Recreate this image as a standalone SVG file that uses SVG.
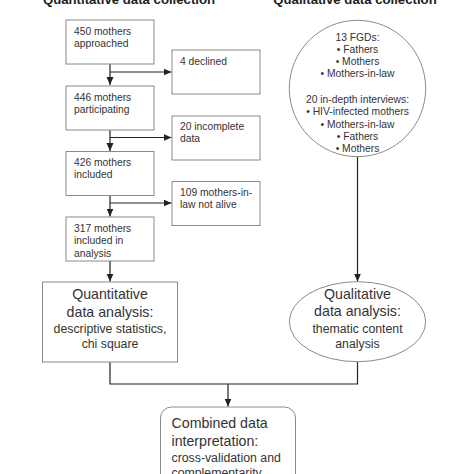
<svg xmlns="http://www.w3.org/2000/svg" width="474" height="474" viewBox="0 0 474 474">
<defs>
<marker id="ah" viewBox="0 0 8 8" refX="8" refY="4" markerWidth="8" markerHeight="8" markerUnits="userSpaceOnUse" orient="auto">
<path d="M0,0.5 L8,4 L0,7.5 Z" fill="#222"/>
</marker>
<style>
text{font-family:"Liberation Sans",Arial,sans-serif;fill:#333}
.h{font-weight:bold;font-size:13.2px;fill:#222;text-anchor:middle}
.s{font-size:10.3px}
.c{text-anchor:middle}
.big{font-size:14.2px}
.med{font-size:12.3px}
.box{fill:#fff;stroke:#8a8a8a;stroke-width:1}
.ln{fill:none;stroke:#222;stroke-width:1.2}
</style>
</defs>
<rect width="474" height="474" fill="#fff"/>
<g id="headers">
<text class="h" x="129" y="3.5">Quantitative data collection</text>
<text class="h" x="355" y="3.5">Qualitative data collection</text>
</g>
<g id="connectors">
<path class="ln" d="M110,64 V85" marker-end="url(#ah)"/>
<path class="ln" d="M110,72 H171.5" marker-end="url(#ah)"/>
<path class="ln" d="M110,130 V151" marker-end="url(#ah)"/>
<path class="ln" d="M110,137.5 H171.5" marker-end="url(#ah)"/>
<path class="ln" d="M110,195.5 V216.5" marker-end="url(#ah)"/>
<path class="ln" d="M110,203 H171.5" marker-end="url(#ah)"/>
<path class="ln" d="M110,261 V281.5" marker-end="url(#ah)"/>
<path class="ln" d="M357.5,156.5 V281.5" marker-end="url(#ah)"/>
<path class="ln" d="M110,362 V384 H357.5 V362"/>
<path class="ln" d="M228,384 V406.5" marker-end="url(#ah)"/>
</g>
<g id="n450">
<rect class="box" x="66" y="20" width="88" height="44"/>
<text class="s" x="74" y="35">450 mothers<tspan x="74" dy="12.3">approached</tspan></text>
</g>
<g id="declined">
<rect class="box" x="172" y="50" width="88" height="44"/>
<text class="s" x="180" y="64.5">4 declined</text>
</g>
<g id="n446">
<rect class="box" x="66" y="86" width="88" height="44"/>
<text class="s" x="74" y="100.5">446 mothers<tspan x="74" dy="12.3">participating</tspan></text>
</g>
<g id="incomplete">
<rect class="box" x="172" y="116" width="88" height="44"/>
<text class="s" x="180" y="130">20 incomplete<tspan x="180" dy="12.3">data</tspan></text>
</g>
<g id="n426">
<rect class="box" x="66" y="151.5" width="88" height="44"/>
<text class="s" x="74" y="166">426 mothers<tspan x="74" dy="12.3">included</tspan></text>
</g>
<g id="notalive">
<rect class="box" x="172" y="181.5" width="88" height="44"/>
<text class="s" x="180" y="195.5">109 mothers-in-<tspan x="180" dy="12.3">law not alive</tspan></text>
</g>
<g id="n317">
<rect class="box" x="66" y="217" width="88" height="44"/>
<text class="s" x="74" y="231.5">317 mothers<tspan x="74" dy="12.5">included in</tspan><tspan x="74" dy="12.5">analysis</tspan></text>
</g>
<g id="quantanalysis">
<rect class="box" x="42.5" y="282" width="135" height="80"/>
<text class="c big" x="110" y="299">Quantitative</text>
<text class="c big" x="110" y="316.5">data analysis:</text>
<text class="c med" x="110" y="333">descriptive statistics,</text>
<text class="c med" x="110" y="347.5">chi square</text>
</g>
<g id="qualcollection">
<circle class="box" cx="357.5" cy="88.5" r="68.2"/>
<text class="c s" x="357.5" y="40.5">13 FGDs:</text>
<text class="c s" x="357.5" y="52.8">• Fathers</text>
<text class="c s" x="357.5" y="65.1">• Mothers</text>
<text class="c s" x="357.5" y="77.4">• Mothers-in-law</text>
<text class="c s" x="357.5" y="103">20 in-depth interviews:</text>
<text class="c s" x="357.5" y="115.3">• HIV-infected mothers</text>
<text class="c s" x="357.5" y="127.6">• Mothers-in-law</text>
<text class="c s" x="357.5" y="139.9">• Fathers</text>
<text class="c s" x="357.5" y="152.2">• Mothers</text>
</g>
<g id="qualanalysis">
<ellipse class="box" cx="357.5" cy="321.7" rx="68.2" ry="40"/>
<text class="c big" x="357.5" y="298.5">Qualitative</text>
<text class="c big" x="357.5" y="316">data analysis:</text>
<text class="c med" x="357.5" y="333">thematic content</text>
<text class="c med" x="357.5" y="347.5">analysis</text>
</g>
<g id="combined">
<rect class="box" x="160.5" y="407" width="135" height="90" rx="11"/>
<text class="big" x="171.5" y="428">Combined data</text>
<text class="big" x="171.5" y="445.5">interpretation:</text>
<text class="med" x="171.5" y="461.5">cross-validation and</text>
<text class="med" x="171.5" y="477">complementarity</text>
</g>
</svg>
